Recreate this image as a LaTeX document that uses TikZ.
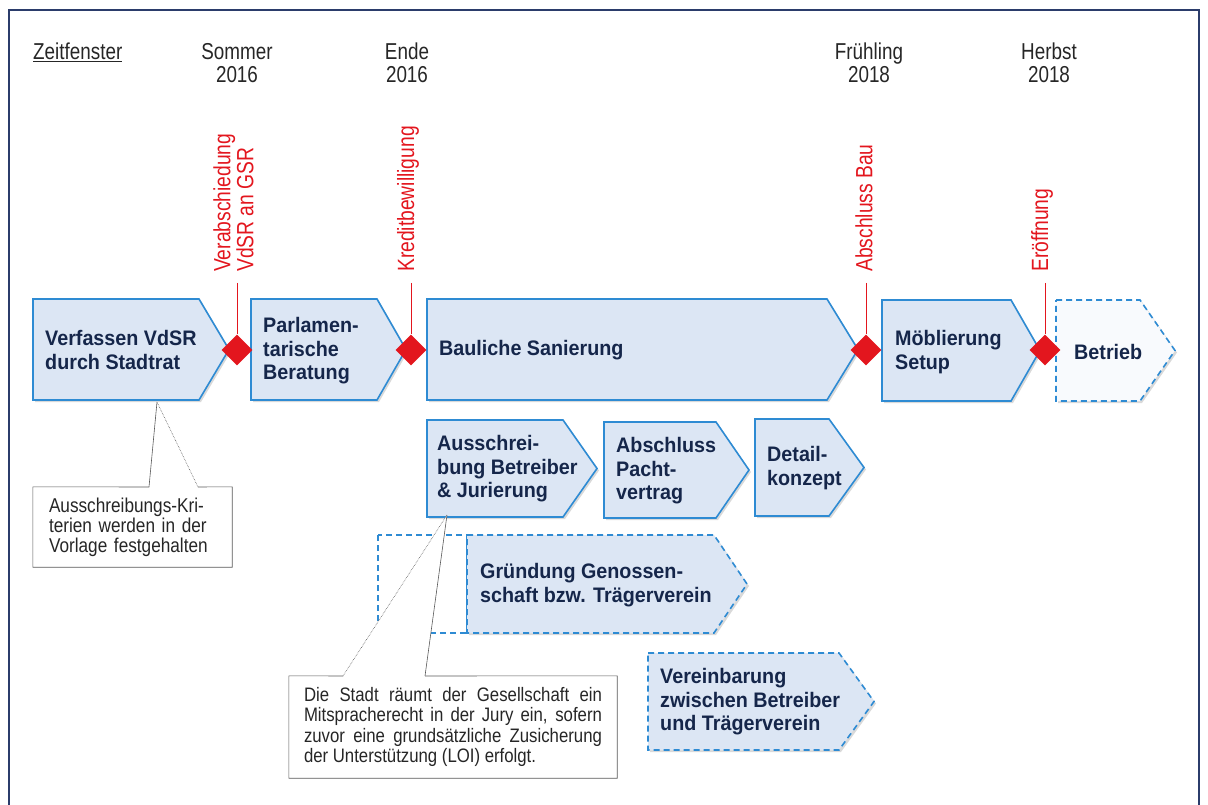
\documentclass[tikz,border=0pt]{standalone}
\usepackage{fontspec}
\setmainfont{Liberation Sans}
\newfontfamily\narrowf{Liberation Sans}[FakeStretch=0.82]
\newfontfamily\cnarrowf{Liberation Sans}[FakeStretch=0.86]
\newfontfamily\boxf{Liberation Sans}[FakeStretch=0.94]
\usetikzlibrary{shapes.geometric}
\definecolor{boxblue}{HTML}{2E8BD3}
\definecolor{boxfill}{HTML}{DCE6F4}
\definecolor{navy}{HTML}{15264A}
\definecolor{msred}{HTML}{E3161E}
\definecolor{framec}{HTML}{2B3C6B}
\tikzset{
  boxst/.style={draw=boxblue, fill=boxfill, line width=1.6pt, line join=miter},
  dboxst/.style={boxst, dash pattern=on 6pt off 4pt},
  wboxst/.style={dboxst, fill=boxfill!20},
  shadowst/.style={fill=black, opacity=0.15},
  btxt/.style={anchor=west, align=left, inner sep=0pt, text=navy, font=\boxf\fontsize{21}{23.5}\selectfont\bfseries},
  mlabel/.style={rotate=90, anchor=west, align=left, inner sep=0pt, text=msred, font=\narrowf\fontsize{23.5}{23}\selectfont},
  hdr/.style={align=center, inner sep=0pt, text=black!85, font=\narrowf\fontsize{23}{23}\selectfont},
  ctxt/.style={inner sep=0pt, text=black!85, font=\cnarrowf\fontsize{20}{20}\selectfont},
  cline/.style={draw=black!65, line width=0.6pt},
  mline/.style={draw=msred, line width=0.8pt},
  mdiam/.style={diamond, fill=msred, minimum width=31pt, minimum height=31pt, inner sep=0pt},
}
\newcommand\arrbox[6]{%
  \fill[shadowst,shift={(2,2)}] (#2,#3) -- (#4,#3) -- (#5,{(#3+#6)/2}) -- (#4,#6) -- (#2,#6) -- cycle;
  \path[#1] (#2,#3) -- (#4,#3) -- (#5,{(#3+#6)/2}) -- (#4,#6) -- (#2,#6) -- cycle;}
\begin{document}
\begin{tikzpicture}[x=1pt,y=-1pt]
\useasboundingbox (0,0) rectangle (1208,805);
\clip (0,0) rectangle (1208,805);
% frame
\draw[framec, line width=1.5pt] (9,10) rectangle (1199,830);
% headers
\node[hdr, anchor=west] (zf) at (33,52) {\underline{Zeitfenster}};
\node[hdr] (h1) at (237,63) {Sommer\\2016};
\node[hdr] (h2) at (407,63) {Ende\\2016};
\node[hdr] (h3) at (869,63) {Frühling\\2018};
\node[hdr] (h4) at (1049,63) {Herbst\\2018};
% row 1
\arrbox{boxst}{33}{299}{199}{229}{400}
\arrbox{boxst}{251}{299}{377}{406}{400}
\arrbox{boxst}{427}{299}{827}{858}{400}
\arrbox{boxst}{882}{300}{1011}{1040}{401}
\arrbox{wboxst}{1056}{300}{1140}{1175}{401}
% row 2
\arrbox{boxst}{427}{420}{563}{597}{517}
\arrbox{boxst}{604}{422}{716}{749}{518}
\arrbox{boxst}{755}{419}{829}{864}{516}
% row 3
\draw[dboxst, fill=none] (378,535) rectangle (467,633);
\arrbox{dboxst}{467}{535}{714}{747}{633}
\arrbox{dboxst}{648}{653}{839}{874}{750}
% box texts
\node[btxt] (t1) at (45,350) {Verfassen VdSR\\durch Stadtrat};
\node[btxt] (t2) at (263,351) {Parlamen-\\tarische\\Beratung};
\node[btxt] (t3) at (439,350) {Bauliche Sanierung};
\node[btxt] (t4) at (895,352) {Möblierung\\Setup};
\node[btxt] (t5) at (1074,352) {Betrieb};
\node[btxt] (t6) at (437,469) {Ausschrei-\\bung Betreiber\\\& Jurierung};
\node[btxt] (t7) at (616,471) {Abschluss\\Pacht-\\vertrag};
\node[btxt] (t8) at (767,468) {Detail-\\konzept};
\node[btxt] (t9) at (480,585) {Gründung Genossen-\\schaft bzw. Trägerverein};
\node[btxt] (t10) at (660,702) {Vereinbarung\\zwischen Betreiber\\und Trägerverein};
% callout 1
\coordinate (ap1) at (157,402);
\coordinate (p1a) at (149,487);
\coordinate (p1b) at (198,487);
\node[ctxt, fill=white, minimum width=199pt, minimum height=80pt, text width=167pt, inner xsep=16pt, align=left] (cb1) at (132.5,527) {Ausschreibungs-Kri-\\terien werden in der\\Vorlage festgehalten};
\fill[white] (p1a) -- (ap1) -- (p1b) -- cycle;
\draw[cline] (p1a) -- (cb1.north west) -- (cb1.south west) -- (cb1.south east) -- (cb1.north east) -- (p1b);
\draw[cline] (p1a) -- (ap1);
\draw[cline, densely dotted] (p1b) -- (ap1);
% callout 2
\coordinate (ap2) at (447,515);
\coordinate (p2a) at (343,676);
\coordinate (p2b) at (425,676);
\node[ctxt, fill=white, minimum width=328pt, minimum height=102pt, text width=298pt, inner xsep=15pt, align=justify, font=\cnarrowf\fontsize{19.5}{20.3}\selectfont] (cb2) at (453,727) {\tolerance=10000\hbadness=10000 Die Stadt räumt der Gesellschaft ein\linebreak Mitspracherecht in der Jury ein, sofern\linebreak zuvor eine grundsätzliche Zusicherung\linebreak der Unterstützung (LOI) erfolgt.};
\fill[white] (p2a) -- (ap2) -- (p2b) -- cycle;
\draw[cline] (p2a) -- (cb2.north west) -- (cb2.south west) -- (cb2.south east) -- (cb2.north east) -- (p2b);
\draw[cline] (p2b) -- (ap2);
\draw[cline, densely dotted] (p2a) -- (ap2);
% milestones
\node[mlabel] (m1) at (233.5,272) {Verabschiedung\\VdSR an GSR};
\node[mlabel] (m2) at (408,272) {Kreditbewilligung};
\node[mlabel] (m3) at (864,272) {Abschluss Bau};
\node[mlabel] (m4) at (1042,272) {Eröffnung};
\node[mdiam] (d1) at (237,350) {};
\node[mdiam] (d2) at (411,350) {};
\node[mdiam] (d3) at (866,350) {};
\node[mdiam] (d4) at (1045,350) {};
\coordinate (l1) at (237,283);
\coordinate (l2) at (411,283);
\coordinate (l3) at (866,283);
\coordinate (l4) at (1045,283);
\draw[mline] (l1) -- (d1.north);
\draw[mline] (l2) -- (d2.north);
\draw[mline] (l3) -- (d3.north);
\draw[mline] (l4) -- (d4.north);
\end{tikzpicture}
\end{document}
